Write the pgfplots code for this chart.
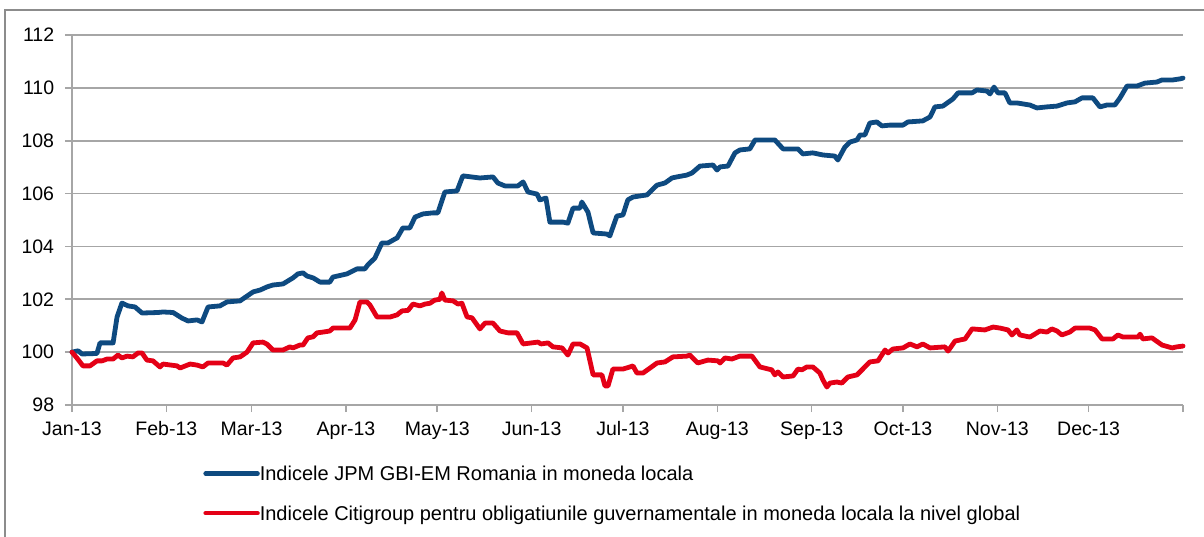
\documentclass[border=0pt]{standalone}
\usepackage{pgfplots}
\pgfplotsset{compat=1.18}
\usepackage{fontspec}
\setmainfont{Liberation Sans}
\definecolor{jpblue}{RGB}{14,74,128}
\definecolor{citired}{RGB}{228,0,22}
\definecolor{gridgray}{RGB}{166,166,166}
\definecolor{framegray}{RGB}{140,140,140}
\begin{document}
\fontsize{9.75}{11.7}\selectfont
\begin{tikzpicture}
\path[use as bounding box] (-36pt,-65.5pt) rectangle (566pt,202.5pt);
\draw[framegray, line width=0.9pt] (-33.5pt,-66pt) -- (-33.5pt,197.5pt) -- (567pt,197.5pt);
\begin{axis}[
  at={(0pt,0pt)}, anchor=south west,
  scale only axis, width=555.5pt, height=185pt,
  xmin=0, xmax=365, ymin=98, ymax=112,
  axis x line*=bottom, axis y line*=left,
  axis line style={gridgray, line width=0.8pt, -},
  xtick={0,31,59,90,120,151,181,212,243,273,304,334,365},
  xticklabels={Jan-13,Feb-13,Mar-13,Apr-13,May-13,Jun-13,Jul-13,Aug-13,Sep-13,Oct-13,Nov-13,Dec-13,},
  ytick={98,100,...,112},
  ymajorgrids, major grid style={gridgray, line width=0.8pt},
  tick align=outside, major tick length=3.5pt,
  tick style={gridgray, line width=0.8pt},
  /pgf/number format/assume math mode=true,
  ticklabel style={font=\fontsize{9.75}{11.7}\selectfont, text=black},
  yticklabel style={xshift=-2pt},
  xticklabel style={anchor=north, text height=7.2pt, text depth=2pt, yshift=-1pt},
  clip=false,
  legend cell align=left,
  legend style={at={(axis description cs:0.1179,-0.165)}, anchor=north west, draw=none, fill=none,
    inner sep=0pt, row sep=12.5pt, font=\fontsize{10}{12}\selectfont,
    nodes={inner sep=0pt, text depth=0pt}},
  legend image code/.code={\draw[#1, line width=2.2pt] (0pt,0pt) -- (26pt,0pt);},
  every axis plot/.append style={line join=round, line cap=round},
]
\addplot[jpblue, line width=2.4pt] coordinates {
(0,100.0) (2,100.05) (3.3,99.93) (8.2,99.95) (9.2,100.35) (13.5,100.35) (14.8,101.33) (16.4,101.86)
(18.4,101.75) (20.7,101.71) (23.0,101.48) (28.3,101.5) (29.9,101.52) (33.2,101.5) (36.1,101.29)
(38.1,101.18) (41.1,101.22) (42.7,101.14) (44.7,101.71) (48.6,101.75) (50.9,101.9) (55.2,101.94)
(59.5,102.28) (61.8,102.35) (64.1,102.47) (66.0,102.54) (69.3,102.58) (72.6,102.81) (74.2,102.96)
(75.9,103.0) (77.2,102.88) (79.2,102.81) (81.5,102.65) (84.7,102.65) (85.7,102.84) (90.3,102.96)
(93.6,103.15) (96.2,103.15) (97.2,103.30) (99.5,103.56) (101.8,104.13) (103.8,104.13) (106.1,104.28)
(106.8,104.32) (108.7,104.70) (111.0,104.70) (112.7,105.11) (115.3,105.23) (118.6,105.27) (120.2,105.27)
(122.5,106.06) (126.5,106.10) (128.4,106.67) (134.0,106.59) (138.3,106.63) (139.9,106.40) (142.2,106.29)
(146.5,106.29) (148.2,106.44) (149.8,106.06) (152.8,105.98) (153.7,105.76) (155.7,105.83) (157.0,104.92)
(161.3,104.92) (162.9,104.88) (164.6,105.45) (166.9,105.45) (167.5,105.68) (169.5,105.30) (171.2,104.51)
(175.7,104.47) (176.7,104.40) (179.0,105.15) (181.0,105.19) (182.6,105.76) (184.3,105.87) (188.9,105.95)
(192.2,106.32) (194.8,106.40) (197.1,106.59) (198.7,106.63) (202.0,106.70) (203.7,106.78) (206.3,107.04)
(210.6,107.08) (211.9,106.89) (212.9,107.01) (215.5,107.04) (217.8,107.54) (219.4,107.65) (222.7,107.69)
(224.4,108.03) (230.9,108.03) (233.6,107.69) (238.5,107.69) (240.1,107.50) (243.4,107.54) (246.7,107.46)
(250.6,107.42) (251.6,107.27) (253.9,107.76) (255.6,107.95) (257.9,108.03) (258.9,108.22) (260.5,108.22)
(262.1,108.67) (264.4,108.71) (266.1,108.56) (268.7,108.59) (273.0,108.59) (274.6,108.71) (279.5,108.75)
(281.9,108.90) (283.5,109.28) (286.1,109.31) (289.4,109.58) (291.1,109.81) (295.7,109.81) (297.3,109.92)
(300.6,109.88) (301.6,109.77) (302.9,110.03) (304.2,109.81) (306.5,109.81) (308.1,109.43) (310.4,109.43)
(314.7,109.35) (317.0,109.24) (320.3,109.28) (323.6,109.31) (326.9,109.43) (329.5,109.47) (331.8,109.62)
(335.4,109.62) (337.7,109.28) (340.0,109.35) (342.6,109.35) (344.3,109.62) (346.6,110.07) (349.9,110.07)
(352.5,110.18) (356.4,110.22) (358.1,110.30) (361.7,110.30) (364.0,110.34) (365,110.37)
};
\addlegendentry{Indicele JPM GBI-EM Romania in moneda locala}
\addplot[citired, line width=2.4pt] coordinates {
(0,100.0) (1.6,99.78) (3.6,99.48) (5.9,99.48) (8.2,99.67) (9.9,99.67) (11.5,99.74) (13.5,99.74)
(15.1,99.89) (16.4,99.78) (18.1,99.85) (20.0,99.82) (21.7,99.97) (23.0,99.97) (24.6,99.70) (26.6,99.67)
(28.9,99.44) (29.9,99.55) (34.5,99.48) (35.5,99.40) (38.8,99.55) (41.1,99.51) (43.0,99.44) (44.7,99.59)
(49.6,99.59) (50.9,99.51) (52.9,99.78) (55.2,99.82) (57.5,100.0) (59.5,100.35) (62.7,100.38) (64.1,100.30)
(66.0,100.08) (69.3,100.08) (71.6,100.20) (72.6,100.16) (74.9,100.27) (75.9,100.27) (77.5,100.54)
(79.2,100.58) (80.5,100.73) (82.5,100.76) (84.7,100.80) (85.7,100.91) (91.3,100.91) (93.0,101.22)
(94.6,101.90) (96.9,101.90) (97.9,101.78) (100.2,101.33) (104.5,101.33) (106.8,101.41) (108.4,101.56)
(110.4,101.58) (112.0,101.82) (114.3,101.75) (116.0,101.82) (117.6,101.85) (119.2,101.97) (120.9,102.0)
(121.5,102.24) (122.5,101.97) (125.2,101.94) (126.8,101.82) (128.1,101.85) (129.8,101.33) (131.4,101.30)
(134.0,100.88) (135.7,101.10) (138.3,101.10) (140.6,100.80) (143.2,100.73) (146.2,100.73) (148.2,100.31)
(153.1,100.38) (154.1,100.31) (156.4,100.35) (158.0,100.20) (161.0,100.16) (162.9,99.89) (164.6,100.31)
(166.9,100.31) (169.2,100.16) (171.2,99.14) (174.1,99.14) (175.1,98.72) (176.1,98.72) (177.7,99.36)
(181.0,99.36) (183.3,99.44) (184.3,99.48) (185.6,99.21) (187.6,99.21) (189.9,99.40) (192.2,99.59)
(194.8,99.63) (197.4,99.82) (202.0,99.85) (203.0,99.89) (205.6,99.59) (208.9,99.70) (212.2,99.67)
(212.9,99.59) (214.5,99.78) (216.8,99.74) (219.4,99.85) (223.4,99.85) (226.0,99.44) (229.9,99.33)
(230.9,99.14) (231.9,99.25) (233.6,99.06) (236.9,99.10) (238.5,99.36) (239.8,99.33) (241.4,99.44)
(243.4,99.44) (245.7,99.21) (246.7,98.95) (248.0,98.68) (249.0,98.83) (251.3,98.87) (252.9,98.83)
(254.9,99.06) (257.9,99.14) (259.8,99.36) (262.1,99.63) (264.8,99.67) (267.1,100.08) (268.1,99.97)
(269.7,100.12) (273.0,100.16) (275.3,100.31) (277.6,100.20) (279.5,100.31) (281.9,100.16) (286.8,100.20)
(287.8,100.04) (290.1,100.42) (293.4,100.50) (295.7,100.88) (299.9,100.84) (302.6,100.95) (304.9,100.91)
(307.5,100.84) (308.8,100.65) (310.4,100.84) (311.4,100.65) (314.7,100.57) (318.0,100.80) (320.3,100.76)
(321.9,100.88) (323.6,100.80) (325.2,100.65) (327.8,100.76) (329.5,100.91) (334.4,100.91) (336.1,100.84)
(338.4,100.50) (342.0,100.50) (343.6,100.65) (345.3,100.57) (350.2,100.57) (350.9,100.68) (351.8,100.50)
(354.8,100.54) (358.1,100.27) (361.4,100.16) (363.0,100.20) (365,100.23)
};
\addlegendentry{Indicele Citigroup pentru obligatiunile guvernamentale in moneda locala la nivel global}
\end{axis}
\end{tikzpicture}
\end{document}
